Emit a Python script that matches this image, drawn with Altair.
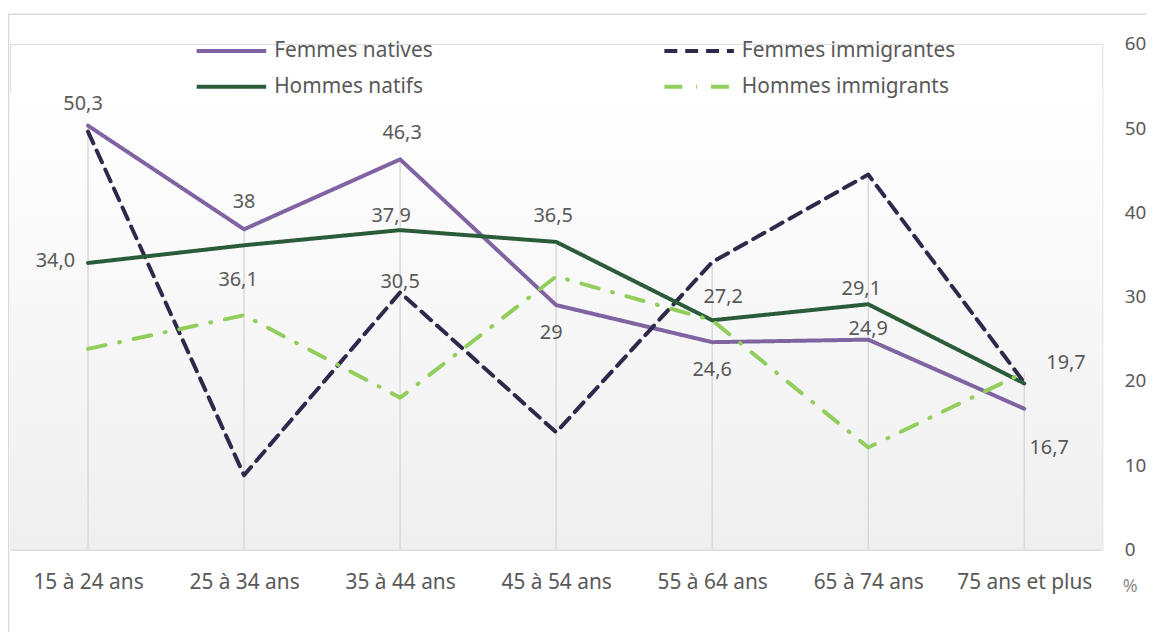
import altair as alt
import pandas as pd

CATS = ["15 à 24 ans", "25 à 34 ans", "35 à 44 ans", "45 à 54 ans",
        "55 à 64 ans", "65 à 74 ans", "75 ans et plus"]
SERIES = ["Femmes natives", "Femmes immigrantes", "Hommes natifs", "Hommes immigrants"]

femmes_natives = [50.3, 38.0, 46.3, 29.0, 24.6, 24.9, 16.7]
femmes_immigrantes = [49.6, 8.8, 30.5, 13.9, 34.1, 44.5, 19.8]
hommes_natifs = [34.0, 36.1, 37.9, 36.5, 27.2, 29.1, 19.7]
hommes_immigrants = [23.8, 27.8, 18.0, 32.4, 27.2, 12.1, 21.0]

fn_labels = ["50,3", "38", "46,3", "29", "24,6", "24,9", "16,7"]
hn_labels = ["34,0", "36,1", "37,9", "36,5", "27,2", "29,1", "19,7"]
fi_label_cat = "35 à 44 ans"
fi_label = "30,5"

COLORS = ["#8064A2", "#30284A", "#2A5C39", "#92CE5C"]
DASHES = [[1, 0], [13, 8], [1, 0], [18, 14, 1, 14]]

W, H = 1100, 509
FONT = "Noto Sans"
TXT = "#595959"

vals = {
    "Femmes natives": femmes_natives,
    "Femmes immigrantes": femmes_immigrantes,
    "Hommes natifs": hommes_natifs,
    "Hommes immigrants": hommes_immigrants,
}
rows = []
for s in SERIES:
    for c, v in zip(CATS, vals[s]):
        rows.append({"cat": c, "serie": s, "value": v})
df = pd.DataFrame(rows)

lab_rows = []
for c, v, t in zip(CATS, femmes_natives, fn_labels):
    lab_rows.append({"cat": c, "serie": "Femmes natives", "value": v, "txt": t})
for c, v, t in zip(CATS, hommes_natifs, hn_labels):
    lab_rows.append({"cat": c, "serie": "Hommes natifs", "value": v, "txt": t})
lab_rows.append({"cat": fi_label_cat, "serie": "Femmes immigrantes",
                 "value": femmes_immigrantes[CATS.index(fi_label_cat)], "txt": fi_label})
labels = pd.DataFrame(lab_rows)

# placement of each label relative to its point (dx, dy, align)
PLACE = {
    ("Femmes natives", 0): (-5, -22, "center"),
    ("Femmes natives", 1): (0, -27, "center"),
    ("Femmes natives", 2): (2, -26, "center"),
    ("Femmes natives", 3): (-5, 28, "center"),
    ("Femmes natives", 4): (0, 28, "center"),
    ("Femmes natives", 5): (0, -11, "center"),
    ("Femmes natives", 6): (25, 40, "center"),
    ("Hommes natifs", 0): (-13, -2, "right"),
    ("Hommes natifs", 1): (-6, 35, "center"),
    ("Hommes natifs", 2): (-9, -14, "center"),
    ("Hommes natifs", 3): (-3, -26, "center"),
    ("Hommes natifs", 4): (11, -23, "center"),
    ("Hommes natifs", 5): (-7, -15, "center"),
    ("Hommes natifs", 6): (42, -21, "center"),
    ("Femmes immigrantes", 2): (0, -10, "center"),
}

x_enc = alt.X("cat:N", sort=CATS, scale=alt.Scale(type="point", padding=0.5),
              axis=alt.Axis(title=None, ticks=False, domainColor="#d9d9d9", domainWidth=1.5,
                            labelFontSize=21, labelColor=TXT, labelFont=FONT,
                            labelPadding=22, labelAngle=0))
y_scale = alt.Scale(domain=[0, 60], nice=False)

one = pd.DataFrame({"a": [0]})
bg = alt.Chart(one).mark_rect(
    fill=alt.Gradient(gradient="linear",
                      stops=[alt.GradientStop(color="#ffffff", offset=0),
                             alt.GradientStop(color="#efefef", offset=1)],
                      x1=0, x2=0, y1=0, y2=1)
).encode(x=alt.value(0), x2=alt.value(W), y=alt.value(48), y2=alt.value(H))

frame_left = alt.Chart(one).mark_rule(color="#d9d9d9", strokeWidth=1.5).encode(
    x=alt.value(-1.5), y=alt.value(-30), y2=alt.value(H + 83))
frame_top = alt.Chart(one).mark_rule(color="#d9d9d9", strokeWidth=1.5).encode(
    x=alt.value(-1.5), x2=alt.value(W + 60), y=alt.value(-30))

drops = alt.Chart(df).mark_rule(color="#d9d9d9", strokeWidth=1.5).encode(
    x=x_enc,
    y=alt.Y("max(value):Q", scale=y_scale,
            axis=alt.Axis(orient="right", values=[0, 10, 20, 30, 40, 50, 60], grid=False,
                          ticks=False, domain=False, labelPadding=22, labelAlign="left",
                          labelFontSize=19, labelColor=TXT, labelFont=FONT,
                          title="%", titleAngle=0, titleAlign="left", titleBaseline="middle",
                          titleX=20, titleY=546, titleFontSize=18, titleColor="#8c8c8c",
                          titleFont=FONT, titleFontWeight="normal")),
    y2=alt.datum(0),
)

leg = alt.Legend(orient="none", legendX=186, legendY=-5, columns=2,
                 direction="horizontal", symbolType="stroke",
                 symbolSize=4900, symbolStrokeWidth=4, title=None,
                 labelFontSize=21, labelColor=TXT, labelFont=FONT,
                 labelOffset=6, columnPadding=231, rowPadding=12, clipHeight=24,
                 padding=0, labelLimit=400)

lines = alt.Chart(df).mark_line(strokeWidth=4, strokeCap="round", strokeJoin="round").encode(
    x=x_enc,
    y=alt.Y("value:Q", scale=y_scale),
    color=alt.Color("serie:N", sort=SERIES, scale=alt.Scale(domain=SERIES, range=COLORS),
                    legend=leg),
    strokeDash=alt.StrokeDash("serie:N", sort=SERIES, scale=alt.Scale(domain=SERIES, range=DASHES),
                              legend=leg),
)

text_layers = []
for (s, i), (dx, dy, al) in PLACE.items():
    sub = labels[(labels["serie"] == s) & (labels["cat"] == CATS[i])]
    text_layers.append(
        alt.Chart(sub).mark_text(dx=dx, dy=dy, align=al, baseline="middle", fontSize=20,
                                 font=FONT, color=TXT).encode(
            x=x_enc, y=alt.Y("value:Q", scale=y_scale), text="txt:N")
    )

chart = alt.layer(frame_left, frame_top, bg, drops, lines, *text_layers).properties(
    width=W, height=H,
    autosize=alt.AutoSizeParams(type="none"),
    padding={"left": 2, "top": 34, "right": 44, "bottom": 83},
).configure_view(stroke=None).configure(background="white")

chart.save("out.html", embed_options={"renderer": "svg", "actions": False})
